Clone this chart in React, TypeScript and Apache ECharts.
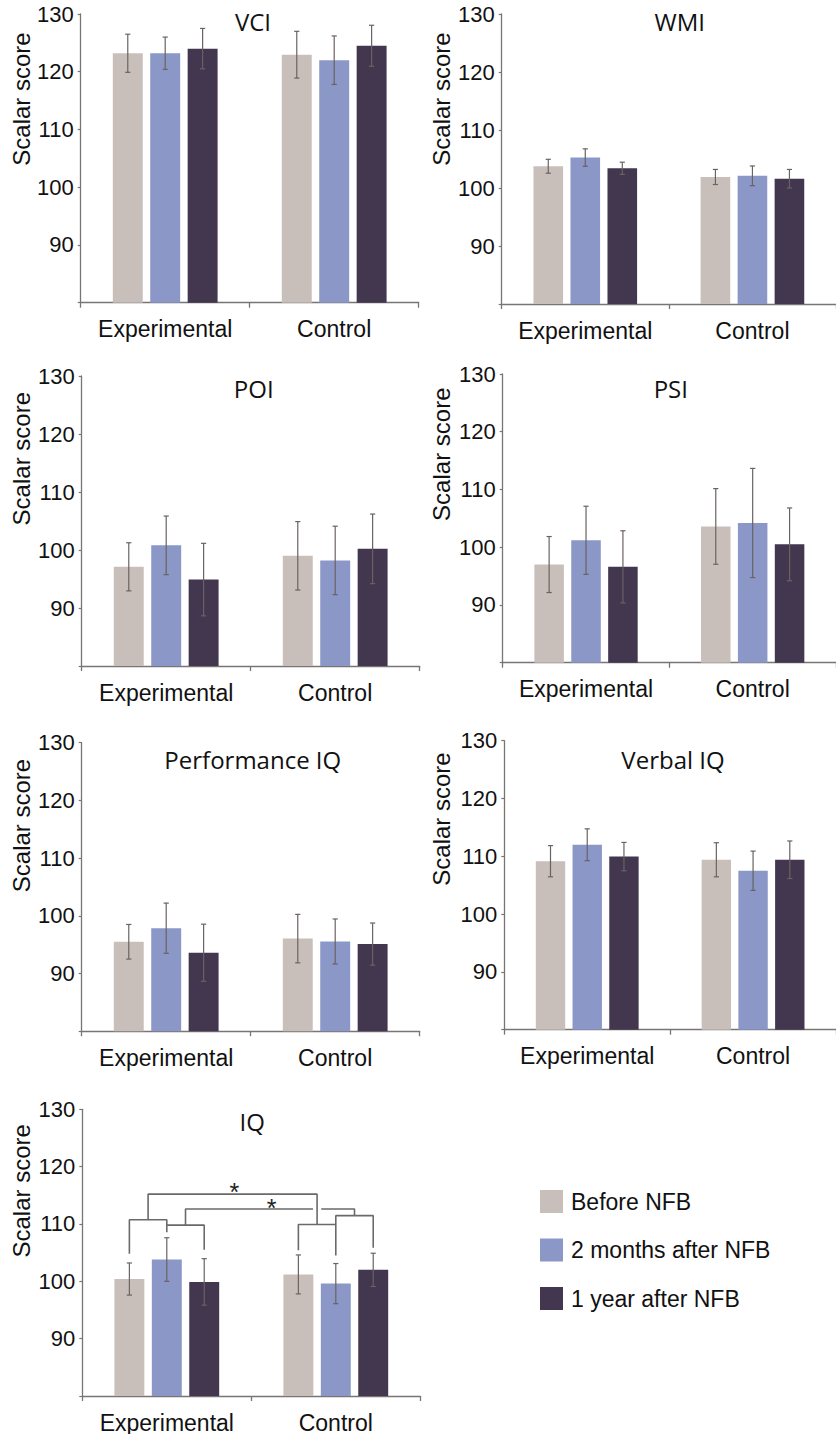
import React, { useEffect, useRef } from "react";
import * as echarts from "echarts";

// ---------- data ----------
const CATEGORIES = ["Experimental", "Control"];
const SERIES_NAMES = ["Before NFB", "2 months after NFB", "1 year after NFB"];
const PANEL_TITLES = ["VCI", "WMI", "POI", "PSI", "Performance IQ", "Verbal IQ", "IQ"];
const Y_LABEL = "Scalar score";
const Y_MIN = 80;
const Y_MAX = 130;
const Y_STEP = 10;

// means[series][group]  (group: Experimental, Control)
const VCI_MEAN = [[123.2, 122.95], [123.2, 122.0], [124.0, 124.5]];
const VCI_ERR = [[3.3, 4.05], [2.8, 4.2], [3.5, 3.55]];
const WMI_MEAN = [[103.75, 101.9], [105.25, 102.1], [103.4, 101.6]];
const WMI_ERR = [[1.2, 1.3], [1.5, 1.7], [1.05, 1.6]];
const POI_MEAN = [[97.1, 99.0], [100.8, 98.2], [94.9, 100.2]];
const POI_ERR = [[4.15, 5.9], [5.05, 5.9], [6.25, 6.0]];
const PSI_MEAN = [[97.0, 103.6], [101.2, 104.2], [96.6, 100.5]];
const PSI_ERR = [[4.85, 6.55], [5.9, 9.45], [6.25, 6.3]];
const PIQ_MEAN = [[95.5, 96.05], [97.85, 95.55], [93.6, 95.1]];
const PIQ_ERR = [[3.0, 4.2], [4.35, 3.9], [4.95, 3.65]];
const VIQ_MEAN = [[109.15, 109.4], [112.0, 107.5], [109.95, 109.4]];
const VIQ_ERR = [[2.7, 2.95], [2.75, 3.4], [2.45, 3.25]];
const IQ_MEAN = [[100.4, 101.2], [103.8, 99.6], [99.9, 102.0]];
const IQ_ERR = [[2.8, 3.4], [3.8, 3.5], [4.05, 2.9]];

const PANEL_MEANS = [VCI_MEAN, WMI_MEAN, POI_MEAN, PSI_MEAN, PIQ_MEAN, VIQ_MEAN, IQ_MEAN];
const PANEL_ERRS = [VCI_ERR, WMI_ERR, POI_ERR, PSI_ERR, PIQ_ERR, VIQ_ERR, IQ_ERR];

// IQ significance brackets: points as [group, barSlot, value]
const IQ_BRACKETS = [
  [[0, 0, 104.8], [0, 0, 110.75], [0, 1, 110.75], [0, 1, 108.55]],
  [[0, 1, 109.8], [0, 2, 109.8], [0, 2, 105.5]],
  [[0, 0.5, 110.75], [0, 0.5, 115.2], [1, 0.5, 115.2], [1, 0.5, 109.9]],
  [[0, 1.5, 109.8], [0, 1.5, 112.6], [1, 0.39, 112.6]],
  [[1, 0.61, 112.6], [1, 1.5, 112.6], [1, 1.5, 111.45]],
  [[1, 0, 105.4], [1, 0, 109.9], [1, 1, 109.9]],
  [[1, 1, 104.5], [1, 1, 111.45], [1, 2, 111.45], [1, 2, 105.85]],
];
const IQ_STARS = [[0.4, 116.5], [0.62, 113.7]];
const STAR_TEXT = "*";

// ---------- layout / style ----------
const COLORS = ["#c9bfba", "#8a97c7", "#42374f"];
const CAT_GAP = 0.38;
const BAR_GAP = 0.25;
const BAR_OFFSET = ((1 - CAT_GAP) / (3 + 2 * BAR_GAP)) * (1 + BAR_GAP);

const PANELS = [
  { left: 80.7, top: 14, height: 288.7, titleX: 253, titleY: 21, labelX: 21.7, labelY: 99 },
  { left: 501.7, top: 14, height: 290, titleX: 679.7, titleY: 21, labelX: 441.7, labelY: 99 },
  { left: 81.7, top: 376, height: 290, titleX: 253.7, titleY: 388.7, labelX: 21.7, labelY: 458.7 },
  { left: 502.7, top: 374, height: 288.7, titleX: 670.8, titleY: 388.7, labelX: 441.7, labelY: 454.2 },
  { left: 81.7, top: 742.7, height: 288.5, titleX: 252.8, titleY: 759, labelX: 21.7, labelY: 825.5 },
  { left: 504.3, top: 740.7, height: 289, titleX: 673, titleY: 759.7, labelX: 441.7, labelY: 819 },
  { left: 82.3, top: 1109.3, height: 287.4, titleX: 252.2, titleY: 1121.7, labelX: 21.7, labelY: 1190.8 },
];
const GRID_WIDTH = 338;
const SANS = "'Liberation Sans', Arial, Helvetica, sans-serif";
const TITLE_FONT = "'Open Sans', 'Noto Sans', sans-serif";
const AXIS_COLOR = "#7a7474";
const ERR_COLOR = "#6b6262";
const BRACKET_COLOR = "#6a6a6a";

function buildOption() {
  const grid: any[] = [];
  const xAxis: any[] = [];
  const yAxis: any[] = [];
  const series: any[] = [];
  const graphic: any[] = [];

  PANELS.forEach((p, i) => {
    grid.push({ left: p.left, top: p.top, width: GRID_WIDTH, height: p.height, containLabel: false });
    xAxis.push({
      type: "category",
      gridIndex: i,
      data: CATEGORIES,
      axisLine: { onZero: false, lineStyle: { color: AXIS_COLOR, width: 1.3 } },
      axisTick: { show: true, interval: 0, length: 5, lineStyle: { color: AXIS_COLOR, width: 1.3 } },
      axisLabel: { interval: 0, fontSize: 23, fontFamily: SANS, color: "#111", margin: 15 },
      splitLine: { show: false },
    });
    xAxis.push({ type: "value", gridIndex: i, min: -0.5, max: 1.5, show: false });
    yAxis.push({
      type: "value",
      gridIndex: i,
      min: Y_MIN,
      max: Y_MAX,
      interval: Y_STEP,
      axisLine: { show: true, onZero: false, lineStyle: { color: AXIS_COLOR, width: 1.3 } },
      axisTick: { show: true, length: 3, lineStyle: { color: AXIS_COLOR, width: 1.2 } },
      axisLabel: {
        fontSize: 22,
        fontFamily: SANS,
        color: "#111",
        margin: 7,
        formatter: (v: number) => (v === Y_MIN ? "" : String(v)),
      },
      splitLine: { show: false },
    });

    const means = PANEL_MEANS[i];
    const errs = PANEL_ERRS[i];
    SERIES_NAMES.forEach((name, s) => {
      series.push({
        type: "bar",
        name,
        xAxisIndex: 2 * i,
        yAxisIndex: i,
        data: means[s],
        barCategoryGap: Math.round(CAT_GAP * 100) + "%",
        barGap: Math.round(BAR_GAP * 100) + "%",
        itemStyle: { color: COLORS[s] },
        z: 2,
      });
    });

    const errData: number[][] = [];
    SERIES_NAMES.forEach((_, s) => {
      CATEGORIES.forEach((__, g) => {
        const m = means[s][g];
        const e = errs[s][g];
        errData.push([g + (s - 1) * BAR_OFFSET, m - e, m + e]);
      });
    });
    series.push({
      type: "custom",
      name: "err" + i,
      xAxisIndex: 2 * i + 1,
      yAxisIndex: i,
      data: errData,
      encode: { x: 0, y: [1, 2] },
      z: 5,
      silent: true,
      renderItem: (params: any, api: any) => {
        const x = api.value(0);
        const lo = api.value(1);
        const hi = api.value(2);
        const a = api.coord([x, hi]);
        const b = api.coord([x, lo]);
        const w = 2.6;
        const st = { stroke: ERR_COLOR, lineWidth: 1.2 };
        return {
          type: "group",
          children: [
            { type: "line", shape: { x1: a[0], y1: a[1], x2: b[0], y2: b[1] }, style: st },
            { type: "line", shape: { x1: a[0] - w, y1: a[1], x2: a[0] + w, y2: a[1] }, style: st },
            { type: "line", shape: { x1: b[0] - w, y1: b[1], x2: b[0] + w, y2: b[1] }, style: st },
          ],
        };
      },
    });

    graphic.push({
      type: "text",
      x: p.titleX,
      y: p.titleY,
      style: {
        text: PANEL_TITLES[i],
        font: `24px ${TITLE_FONT}`,
        fill: "#111",
        align: "center",
        verticalAlign: "middle",
        textAlign: "center",
        textVerticalAlign: "middle",
      },
    });
    graphic.push({
      type: "text",
      x: p.labelX,
      y: p.labelY,
      rotation: Math.PI / 2,
      style: {
        text: Y_LABEL,
        font: `24px ${SANS}`,
        fill: "#111",
        align: "center",
        verticalAlign: "middle",
        textAlign: "center",
        textVerticalAlign: "middle",
      },
    });
  });

  // IQ brackets (panel 6)
  const iq = 6;
  IQ_BRACKETS.forEach((br, k) => {
    series.push({
      type: "line",
      name: "bracket" + k,
      xAxisIndex: 2 * iq + 1,
      yAxisIndex: iq,
      data: br.map(([g, slot, v]) => [g + (slot - 1) * BAR_OFFSET, v]),
      symbol: "none",
      lineStyle: { color: BRACKET_COLOR, width: 1.6 },
      silent: true,
      z: 6,
    });
  });
  series.push({
    type: "custom",
    name: "stars",
    xAxisIndex: 2 * iq + 1,
    yAxisIndex: iq,
    data: IQ_STARS,
    encode: { x: 0, y: 1 },
    silent: true,
    z: 7,
    renderItem: (params: any, api: any) => {
      const c = api.coord([api.value(0), api.value(1)]);
      return {
        type: "text",
        x: c[0],
        y: c[1] + 5.5,
        style: {
          text: STAR_TEXT,
          font: `25px ${SANS}`,
          fill: "#222",
          align: "center",
          verticalAlign: "middle",
        },
      };
    },
  });

  return {
    animation: false,
    backgroundColor: "#ffffff",
    grid,
    xAxis,
    yAxis,
    series,
    graphic,
    legend: {
      data: SERIES_NAMES,
      orient: "vertical",
      left: 535,
      top: 1185,
      itemWidth: 23,
      itemHeight: 23,
      itemGap: 25.5,
      icon: "rect",
      selectedMode: false,
      textStyle: { fontSize: 23, fontFamily: SANS, color: "#111", lineHeight: 23, padding: [0, 0, 0, 3] },
    },
  };
}

export default function App() {
  const ref = useRef<HTMLDivElement>(null);
  useEffect(() => {
    document.body.style.margin = "0";
    if (!ref.current) return;
    const chart = echarts.init(ref.current, undefined, { renderer: "svg" });
    chart.setOption(buildOption() as any);
    return () => chart.dispose();
  }, []);
  return <div ref={ref} style={{ width: 836, height: 1434 }} />;
}
